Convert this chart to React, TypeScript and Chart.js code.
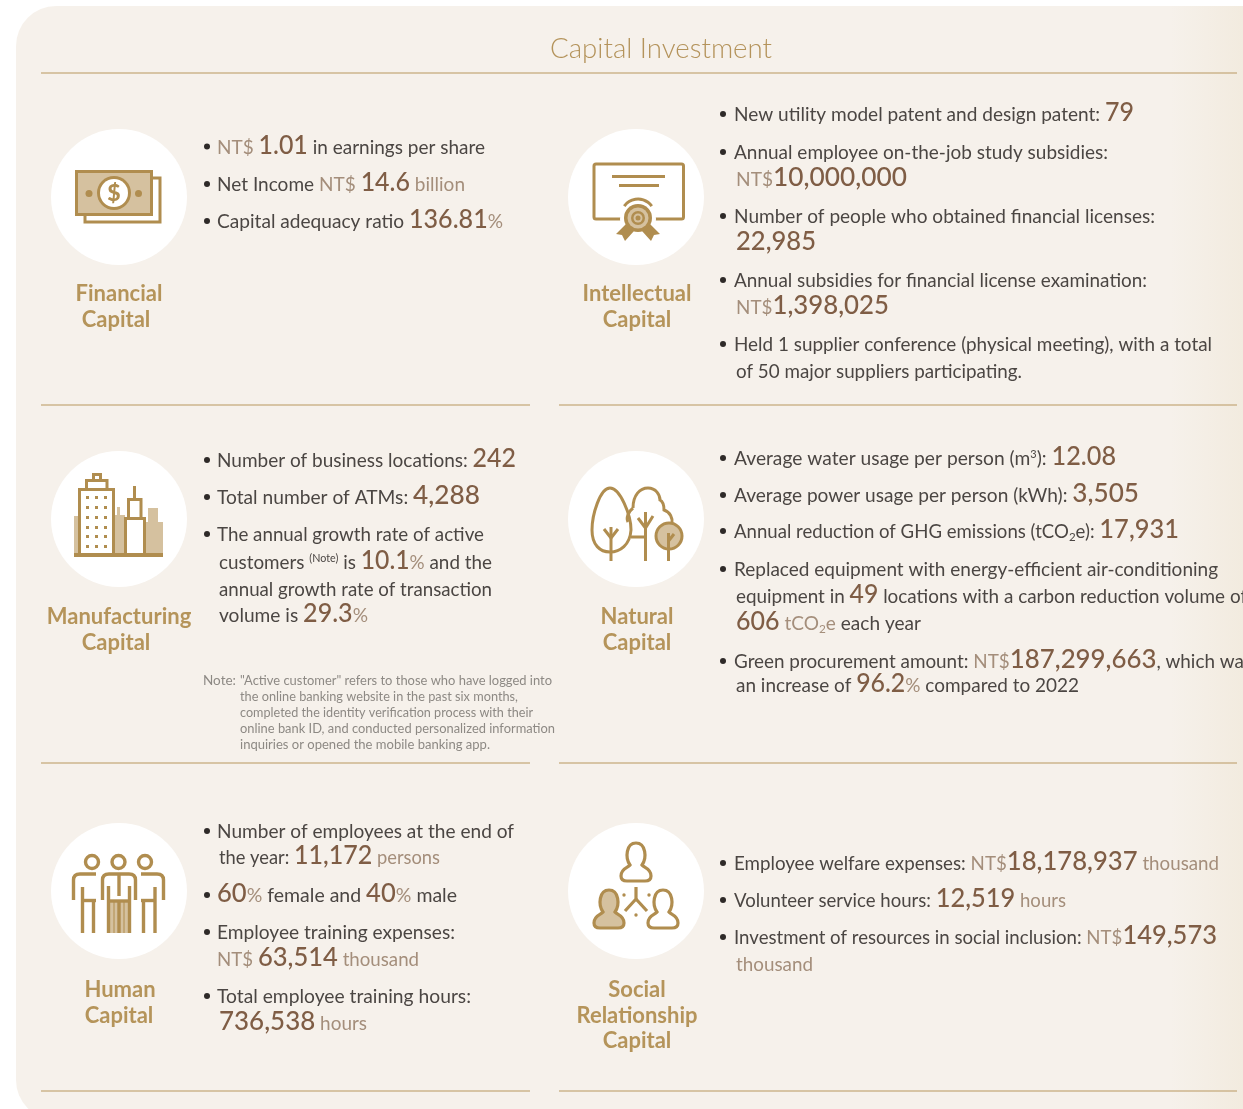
import React, { useEffect, useRef } from "react";
import { Chart, registerables } from "chart.js";

Chart.register(...registerables);

// ---------- content ----------
const panelTitle = "Capital Investment";
const capitalNames = [
  ["Financial", "Capital"],
  ["Intellectual", "Capital"],
  ["Manufacturing", "Capital"],
  ["Natural", "Capital"],
  ["Human", "Capital"],
  ["Social", "Relationship", "Capital"],
];
const financialValues = ["1.01", "14.6", "136.81"];
const intellectualValues = ["79", "10,000,000", "22,985", "1,398,025"];
const manufacturingValues = ["242", "4,288", "10.1", "29.3"];
const naturalValues = ["12.08", "3,505", "17,931", "49", "606", "187,299,663", "96.2"];
const humanValues = ["11,172", "60", "40", "63,514", "736,538"];
const socialValues = ["18,178,937", "12,519", "149,573"];
const noteLines = [
  "\"Active customer\" refers to those who have logged into",
  "the online banking website in the past six months,",
  "completed the identity verification process with their",
  "online bank ID, and conducted personalized information",
  "inquiries or opened the mobile banking app.",
];

// ---------- styles ----------
const FONT = "Lato, 'Open Sans', sans-serif";
const GOLD = "#b08d4f";
const TAN = "#d5c19f";
const RULE = "#cdb48c";
const styles: Record<string, { size: number; color: string; weight?: number; dy?: number; sx?: number }> = {
  b: { size: 19.3, color: "#4b4643" },
  n: { size: 27.5, color: "#7f5d45", weight: 500, sx: 0.92 },
  nc: { size: 27.5, color: "#7f5d45", weight: 500, sx: 0.96 },
  u: { size: 19.3, color: "#a48e7b" },
  us: { size: 12, color: "#a48e7b", dy: 3 },
  bs: { size: 12, color: "#4b4643", dy: 3 },
  sup: { size: 11, color: "#4b4643", dy: -7 },
};
type Run = [string, string];
type Line = { x: number; end: number; y: number; bullet?: boolean; runs: Run[] };
const b = (t: string): Run => [t, "b"];
const n = (t: string): Run => [t, t.includes(",") ? "nc" : "n"];
const u = (t: string): Run => [t, "u"];

const LB = 207, LT = 217, RB = 723, RT = 734;
const L = (x: number, end: number, y: number, runs: Run[], bullet = false): Line => ({ x, end, y, runs, bullet });

const [f1, f2, f3] = financialValues;
const [i1, i2, i3, i4] = intellectualValues;
const [m1, m2, m3, m4] = manufacturingValues;
const [g1, g2, g3, g4, g5, g6, g7] = naturalValues;
const [h1, h2, h3, h4, h5] = humanValues;
const [s1, s2, s3] = socialValues;

const lines: Line[] = [
  // Financial
  L(LT, 485, 153.5, [u("NT$ "), n(f1), b(" in earnings per share")], true),
  L(LT, 465, 191, [b("Net Income "), u("NT$ "), n(f2), u(" billion")], true),
  L(LT, 503, 228, [b("Capital adequacy ratio "), n(f3), u("%")], true),
  // Intellectual
  L(RT, 1134, 121, [b("New utility model patent and design patent: "), n(i1)], true),
  L(RT, 1108, 159, [b("Annual employee on-the-job study subsidies:")], true),
  L(736, 907, 186, [u("NT$"), n(i2)]),
  L(RT, 1155, 223, [b("Number of people who obtained financial licenses:")], true),
  L(736, 816, 250, [n(i3)]),
  L(RT, 1147, 287, [b("Annual subsidies for financial license examination:")], true),
  L(736, 889, 314, [u("NT$"), n(i4)]),
  L(RT, 1212, 351, [b("Held 1 supplier conference (physical meeting), with a total")], true),
  L(736, 1022, 378, [b("of 50 major suppliers participating.")]),
  // Manufacturing
  L(LT, 516, 467, [b("Number of business locations: "), n(m1)], true),
  L(LT, 480, 504, [b("Total number of ATMs: "), n(m2)], true),
  L(LT, 484, 541, [b("The annual growth rate of active")], true),
  L(219, 492, 569, [b("customers "), ["(Note)", "sup"], b(" is "), n(m3), u("%"), b(" and the")]),
  L(219, 492, 596, [b("annual growth rate of transaction")]),
  L(219, 368, 622, [b("volume is "), n(m4), u("%")]),
  // Natural
  L(RT, 1116, 465, [b("Average water usage per person (m"), ["3", "sup"], b("): "), n(g1)], true),
  L(RT, 1139, 502, [b("Average power usage per person (kWh): "), n(g2)], true),
  L(RT, 1179, 538, [b("Annual reduction of GHG emissions (tCO"), ["2", "bs"], b("e): "), n(g3)], true),
  L(RT, 1218, 576, [b("Replaced equipment with energy-efficient air-conditioning")], true),
  L(736, 1247, 603, [b("equipment in "), n(g4), b(" locations with a carbon reduction volume of")]),
  L(736, 921, 630, [n(g5), u(" tCO"), ["2", "us"], u("e"), b(" each year")]),
  L(RT, 1252, 668, [b("Green procurement amount: "), u("NT$"), n(g6), b(", which was")], true),
  L(736, 1079, 692, [b("an increase of "), n(g7), u("%"), b(" compared to 2022")]),
  // Human
  L(LT, 514, 838, [b("Number of employees at the end of")], true),
  L(219, 440, 864, [b("the year: "), n(h1), u(" persons")]),
  L(LT, 457, 902, [n(h2), u("%"), b(" female and "), n(h3), u("%"), b(" male")], true),
  L(LT, 455, 939, [b("Employee training expenses:")], true),
  L(LT, 419, 966, [u("NT$ "), n(h4), u(" thousand")]),
  L(LT, 471, 1003, [b("Total employee training hours:")], true),
  L(219, 367, 1030, [n(h5), u(" hours")]),
  // Social
  L(RT, 1219, 870, [b("Employee welfare expenses: "), u("NT$"), n(s1), u(" thousand")], true),
  L(RT, 1066, 907, [b("Volunteer service hours: "), n(s2), u(" hours")], true),
  L(RT, 1217, 944, [b("Investment of resources in social inclusion: "), u("NT$"), n(s3)], true),
  L(736, 813, 971, [u("thousand")]),
];

// name label layout: [centre x, first baseline] for each panel
const nameSpots = [
  { cx: [119, 116], y: [301, 327] },
  { cx: [637, 637], y: [301, 327] },
  { cx: [119, 116], y: [624, 650] },
  { cx: [637, 637], y: [624, 650] },
  { cx: [120, 119], y: [997, 1023] },
  { cx: [637, 637, 637], y: [997, 1023, 1048] },
];
const notePos = { labelX: 203, textX: 240, y: 685, step: 16, ends: [552, 518, 533, 555, 490] };

// circle centres and rule ends, in page pixels
const circleXs = [119, 636];
const circleYs = [197, 519, 891];
const ruleYs = [405, 763, 1091];
const ruleSpans = [[41, 530], [559, 1237]];

function drawIcons(c: CanvasRenderingContext2D) {
  c.save();
  c.strokeStyle = GOLD;
  c.fillStyle = GOLD;
  c.lineWidth = 3;
  c.lineCap = "butt";
  c.lineJoin = "miter";
  const line = (...p: number[]) => {
    c.beginPath();
    c.moveTo(p[0], p[1]);
    for (let i = 2; i < p.length; i += 2) c.lineTo(p[i], p[i + 1]);
    c.stroke();
  };
  const disc = (x: number, y: number, r: number, col: string) => {
    c.fillStyle = col;
    c.beginPath();
    c.arc(x, y, r, 0, Math.PI * 2);
    c.fill();
  };
  const ring = (x: number, y: number, r: number) => {
    c.beginPath();
    c.arc(x, y, r, 0, Math.PI * 2);
    c.stroke();
  };

  // money
  line(152, 178, 160, 178, 160, 222, 85, 222, 85, 215);
  c.fillStyle = TAN;
  c.fillRect(77, 172, 75, 42);
  c.strokeRect(76.5, 171.5, 75, 43);
  disc(114, 193, 17, GOLD);
  disc(114, 193, 14, "#fff");
  disc(89, 193.5, 3.5, GOLD);
  disc(138.5, 193.5, 3.5, GOLD);
  c.fillStyle = GOLD;
  c.font = `900 23px ${FONT}`;
  c.textAlign = "center";
  c.fillText("$", 114, 201);

  // certificate
  c.beginPath();
  c.roundRect(594, 164, 89.5, 55, 2);
  c.stroke();
  line(612, 176.5, 665, 176.5);
  line(619, 185.5, 659, 185.5);
  disc(638, 219, 18, "#fff");
  c.beginPath();
  c.arc(638, 216, 17, Math.PI * 1.2, Math.PI * 1.8);
  c.stroke();
  c.fillStyle = GOLD;
  c.beginPath();
  c.moveTo(626, 224);
  c.lineTo(616, 234);
  c.lineTo(622, 235);
  c.lineTo(625, 241);
  c.lineTo(634, 231);
  c.lineTo(642, 231);
  c.lineTo(651, 241);
  c.lineTo(654, 235);
  c.lineTo(660, 234);
  c.lineTo(650, 224);
  c.closePath();
  c.fill();
  disc(638, 218, 14, GOLD);
  disc(638, 218, 10.5, TAN);
  disc(638, 218, 7, GOLD);
  disc(638, 218, 4.5, TAN);
  disc(638, 218, 2.5, GOLD);

  // buildings
  c.fillStyle = TAN;
  c.fillRect(74, 516, 5, 39);
  c.fillRect(114, 515, 11, 40);
  c.fillRect(117, 507, 3, 9);
  c.fillRect(144, 522, 19, 33);
  c.fillRect(148, 508, 10, 15);
  c.fillStyle = "#fff";
  c.fillRect(127, 518, 16, 37);
  c.strokeRect(79.5, 489.5, 34, 66);
  line(86.5, 489, 86.5, 480.5, 107, 480.5, 107, 489);
  line(93.5, 480, 93.5, 474.5, 100.5, 474.5, 100.5, 480);
  c.fillStyle = GOLD;
  for (const y of [496, 506, 516, 526, 535, 545])
    for (const x of [86, 95, 104]) c.fillRect(x, y, 3, 3);
  line(125.5, 555, 125.5, 518.5, 144.5, 518.5, 144.5, 555);
  line(128.5, 518, 128.5, 499.5, 141, 499.5, 141, 518);
  line(134.5, 499, 134.5, 486);
  c.lineWidth = 4;
  line(74, 555, 163, 555);
  c.lineWidth = 3;

  // trees
  c.beginPath();
  c.moveTo(610, 488);
  c.bezierCurveTo(600, 488, 592, 515, 592, 530);
  c.bezierCurveTo(592, 545, 600, 552, 610, 552);
  c.bezierCurveTo(620, 552, 630, 545, 631, 530);
  c.bezierCurveTo(631, 515, 620, 488, 610, 488);
  c.stroke();
  line(611, 561, 611, 527);
  line(604, 529, 611, 538, 618, 529);
  c.beginPath();
  c.moveTo(633, 508);
  c.bezierCurveTo(628, 512, 626, 518, 628, 522);
  c.moveTo(633, 508);
  c.bezierCurveTo(633, 495, 640, 488, 648, 488);
  c.bezierCurveTo(656, 488, 660, 495, 660, 500);
  c.bezierCurveTo(664, 502, 664, 508, 664, 510);
  c.bezierCurveTo(670, 512, 673, 518, 672, 524);
  c.moveTo(631, 537);
  c.lineTo(644, 537);
  c.stroke();
  line(645.5, 561, 645.5, 512);
  line(638, 518, 645.5, 528, 653, 516);
  c.fillStyle = TAN;
  c.beginPath();
  c.arc(669, 536, 13, 0, Math.PI * 2);
  c.fill();
  c.stroke();
  line(668.5, 561, 668.5, 533);
  line(668.5, 541, 674, 534);

  // people
  c.lineWidth = 3.4;
  for (const x of [92, 118.5, 145]) ring(x, 862, 6.5);
  c.fillStyle = TAN;
  c.fillRect(108, 901, 22, 32);
  c.beginPath();
  c.moveTo(102.5, 900);
  c.lineTo(102.5, 880);
  c.quadraticCurveTo(102.5, 874, 109, 874);
  c.lineTo(129, 874);
  c.quadraticCurveTo(135.5, 874, 135.5, 880);
  c.lineTo(135.5, 900);
  c.stroke();
  line(108.5, 886, 108.5, 933);
  line(129.5, 886, 129.5, 933);
  line(119, 874, 119, 896);
  line(108, 901, 130, 901);
  line(119, 901, 119, 933);
  c.lineWidth = 1;
  line(114, 901, 114, 933);
  line(124, 901, 124, 933);
  c.lineWidth = 3.4;
  c.beginPath();
  c.moveTo(73.5, 900);
  c.lineTo(73.5, 880);
  c.quadraticCurveTo(73.5, 874, 80, 874);
  c.lineTo(96, 874);
  c.moveTo(141, 874);
  c.lineTo(157, 874);
  c.quadraticCurveTo(163.5, 874, 163.5, 880);
  c.lineTo(163.5, 900);
  c.stroke();
  line(82.5, 887, 82.5, 933);
  line(93.5, 900, 93.5, 933);
  line(82, 900.5, 96, 900.5);
  line(143.5, 900, 143.5, 933);
  line(155, 887, 155, 933);
  line(141, 900.5, 156, 900.5);
  c.lineWidth = 3.2;

  // social
  const person = (cx: number, cy: number, fill: boolean) => {
    c.beginPath();
    c.moveTo(cx - 6, cy + 9);
    c.bezierCurveTo(cx - 11, cy + 2, cx - 10, cy - 13, cx, cy - 13);
    c.bezierCurveTo(cx + 10, cy - 13, cx + 11, cy + 2, cx + 6, cy + 9);
    c.bezierCurveTo(cx + 8, cy + 12, cx + 15, cy + 12, cx + 15, cy + 20);
    c.quadraticCurveTo(cx + 15, cy + 25, cx + 9, cy + 25);
    c.lineTo(cx - 9, cy + 25);
    c.quadraticCurveTo(cx - 15, cy + 25, cx - 15, cy + 20);
    c.bezierCurveTo(cx - 15, cy + 12, cx - 8, cy + 12, cx - 6, cy + 9);
    c.closePath();
    if (fill) {
      c.fillStyle = TAN;
      c.fill();
    }
    c.stroke();
  };
  person(636, 856, false);
  person(609, 903, true);
  person(663, 903, false);
  line(636, 887, 636, 899, 625, 911);
  line(636, 899, 647, 911);
  disc(624, 895, 1.7, GOLD);
  disc(649, 895, 1.7, GOLD);
  disc(636, 915, 1.7, GOLD);
  c.restore();
}

const infographicPlugin = {
  id: "infographic",
  beforeDraw(chart: any) {
    const c: CanvasRenderingContext2D = chart.ctx;
    c.save();
    const g = c.createLinearGradient(1170, 0, 1243, 0);
    g.addColorStop(0, "#f6f1eb");
    g.addColorStop(1, "#f2ebdf");
    c.fillStyle = g;
    c.beginPath();
    c.roundRect(16, 6, 1267, 1114, 40);
    c.fill();
    c.restore();
  },
  afterDatasetsDraw(chart: any) {
    const c: CanvasRenderingContext2D = chart.ctx;
    drawIcons(c);
    c.save();
    c.textBaseline = "alphabetic";
    // title
    c.textAlign = "center";
    c.font = `300 27px ${FONT}`;
    c.fillStyle = "#b4935b";
    const tw = c.measureText(panelTitle).width;
    c.save();
    c.translate(661, 57.5);
    c.scale(222 / tw, 1);
    c.fillText(panelTitle, 0, 0);
    c.restore();
    // capital names
    c.font = `700 22px ${FONT}`;
    c.fillStyle = "#b5945a";
    capitalNames.forEach((words, i) => {
      words.forEach((w, j) => {
        c.fillText(w, nameSpots[i].cx[j], nameSpots[i].y[j]);
      });
    });
    // lines of mixed runs
    c.textAlign = "left";
    for (const ln of lines) {
      if (ln.bullet) {
        c.fillStyle = "#2e2a28";
        c.beginPath();
        c.arc(ln.x < 500 ? LB : RB, ln.y - 7, 3, 0, Math.PI * 2);
        c.fill();
      }
      let total = 0;
      for (const [t, k] of ln.runs) {
        const s = styles[k];
        c.font = `${s.weight ?? 400} ${s.size}px ${FONT}`;
        total += c.measureText(t).width * (s.sx ?? 1);
      }
      const sx = (ln.end - ln.x) / total;
      c.save();
      c.translate(ln.x, ln.y);
      c.scale(sx, 1);
      let cur = 0;
      for (const [t, k] of ln.runs) {
        const s = styles[k];
        const rs = s.sx ?? 1;
        c.font = `${s.weight ?? 400} ${s.size}px ${FONT}`;
        c.fillStyle = s.color;
        c.save();
        c.translate(cur, s.dy ?? 0);
        c.scale(rs, 1);
        c.fillText(t, 0, 0);
        c.restore();
        cur += c.measureText(t).width * rs;
      }
      c.restore();
    }
    // note
    c.font = `400 13.5px ${FONT}`;
    c.fillStyle = "#8d8984";
    c.fillText("Note:", notePos.labelX, notePos.y);
    noteLines.forEach((t, i) => {
      const w = c.measureText(t).width;
      c.save();
      c.translate(notePos.textX, notePos.y + i * notePos.step);
      c.scale((notePos.ends[i] - notePos.textX) / w, 1);
      c.fillText(t, 0, 0);
      c.restore();
    });
    c.restore();
  },
};

export default function App() {
  const ref = useRef<HTMLCanvasElement>(null);
  useEffect(() => {
    document.body.style.margin = "0";
    document.body.style.background = "#fff";
    const circles: { x: number; y: number }[] = [];
    circleYs.forEach((y) => circleXs.forEach((x) => circles.push({ x, y })));
    const rules: any[] = [
      {
        type: "line",
        data: [{ x: 41, y: 73 }, { x: 1237, y: 73 }],
        borderColor: RULE,
        borderWidth: 1.5,
        pointRadius: 0,
      },
    ];
    ruleYs.forEach((y) =>
      ruleSpans.forEach(([a, e]) =>
        rules.push({
          type: "line",
          data: [{ x: a, y }, { x: e, y }],
          borderColor: RULE,
          borderWidth: 1.5,
          pointRadius: 0,
        })
      )
    );
    const chart = new Chart(ref.current!, {
      type: "scatter",
      data: {
        datasets: [
          {
            data: circles,
            pointRadius: 68,
            pointHoverRadius: 68,
            backgroundColor: "#ffffff",
            borderWidth: 0,
          } as any,
          ...rules,
        ],
      },
      options: {
        animation: false,
        responsive: false,
        layout: { padding: 0, autoPadding: false },
        events: [],
        scales: {
          x: { type: "linear", min: 0, max: 1243, display: false },
          y: { type: "linear", min: 0, max: 1109, reverse: true, display: false },
        },
        plugins: { legend: { display: false }, tooltip: { enabled: false }, title: { display: false } },
      },
      plugins: [infographicPlugin],
    } as any);
    return () => chart.destroy();
  }, []);
  return (
    <div style={{ position: "absolute", left: 0, top: 0, width: 1243, height: 1109, overflow: "hidden", background: "#fff" }}>
      <canvas ref={ref} width={1243} height={1109} style={{ display: "block" }} />
    </div>
  );
}
